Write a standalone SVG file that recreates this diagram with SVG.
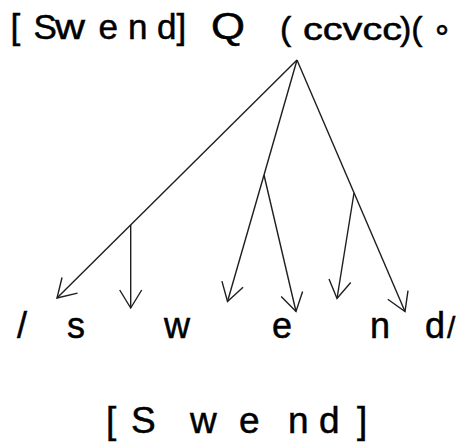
<svg xmlns="http://www.w3.org/2000/svg" width="457" height="448" viewBox="0 0 457 448">
<defs>
<style>
.t{font-family:"Liberation Sans",Arial,sans-serif;fill:#000;stroke:#000;stroke-width:0.5}
.e{stroke:#1e1e1e;stroke-width:1.4;fill:none}
.a{marker-end:url(#arr)}
</style>
<marker id="arr" markerWidth="24" markerHeight="24" refX="20" refY="12" orient="auto" markerUnits="userSpaceOnUse">
<path d="M2,1 L20,12 L2,23" fill="none" stroke="#1e1e1e" stroke-width="1.4"/>
</marker>
</defs>
<rect width="457" height="448" fill="#fff"/>
<g id="top-label">
<text class="t" font-size="35" y="39"><tspan x="10.5">[</tspan><tspan x="33.4">S</tspan></text>
<text class="t" font-size="35" x="55" y="39" textLength="30" lengthAdjust="spacingAndGlyphs">w</text>
<text class="t" font-size="35" y="39"><tspan x="98.6">e</tspan><tspan x="128">n</tspan><tspan x="157">d]</tspan></text>
<text class="t" font-size="36" x="211" y="39" textLength="34" lengthAdjust="spacingAndGlyphs">Q</text>
<text class="t" font-size="34" x="280" y="40">(</text>
<text class="t" font-size="31" x="303" y="40" textLength="99" lengthAdjust="spacingAndGlyphs">ccvcc</text>
<text class="t" font-size="34" x="400" y="40">)(</text>
<text class="t" font-size="32" x="432" y="40" style="font-family:'DejaVu Sans',sans-serif">∘</text>
</g>
<g id="connectors">
<line class="e a" x1="297" y1="60" x2="57" y2="298"/>
<line class="e a" x1="130.7" y1="225" x2="130.7" y2="308"/>
<line class="e" x1="297" y1="60" x2="264" y2="175"/>
<line class="e a" x1="264" y1="175" x2="227.5" y2="301.5"/>
<line class="e a" x1="264" y1="175" x2="296" y2="311.5"/>
<line class="e a" x1="297" y1="60" x2="405" y2="311.5"/>
<line class="e a" x1="354" y1="193" x2="337" y2="298.5"/>
</g>
<g id="segments">
<text class="t" font-size="36" y="338"><tspan x="17">/</tspan><tspan x="67">s</tspan><tspan x="164">w</tspan><tspan x="272">e</tspan><tspan x="370">n</tspan><tspan x="425">d</tspan><tspan x="447" font-size="30">/</tspan></text>
</g>
<g id="bottom-label">
<text class="t" font-size="37" y="433"><tspan x="106">[</tspan><tspan x="131">S</tspan><tspan x="190">w</tspan><tspan x="239">e</tspan><tspan x="288">n</tspan><tspan x="319">d</tspan><tspan x="357">]</tspan></text>
</g>
</svg>
